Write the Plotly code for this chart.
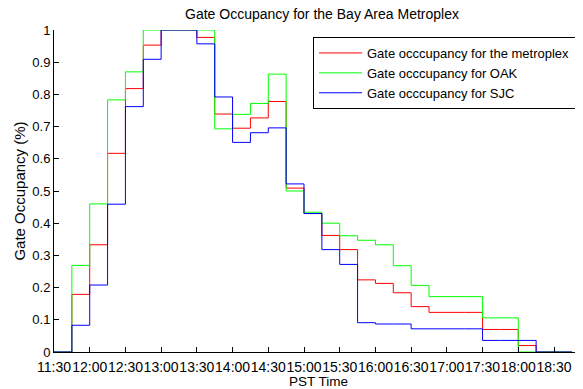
import plotly.graph_objects as go

# 15-minute slots, PST
times = ["11:30", "11:45", "12:00", "12:15", "12:30", "12:45", "13:00", "13:15",
         "13:30", "13:45", "14:00", "14:15", "14:30", "14:45", "15:00", "15:15",
         "15:30", "15:45", "16:00", "16:15", "16:30", "16:45", "17:00", "17:15",
         "17:30", "17:45", "18:00", "18:15", "18:30", "18:45"]

metroplex = [0, 0.179, 0.333, 0.617, 0.818, 0.953, 1.0, 1.0, 0.977, 0.739,
             0.695, 0.727, 0.778, 0.509, 0.430, 0.362, 0.318, 0.224, 0.213, 0.184,
             0.141, 0.123, 0.123, 0.123, 0.070, 0.070, 0.020, 0, 0, 0]
oak = [0, 0.269, 0.460, 0.783, 0.870, 1.0, 1.0, 1.0, 1.0, 0.693,
       0.738, 0.772, 0.863, 0.500, 0.434, 0.400, 0.361, 0.347, 0.333, 0.268,
       0.207, 0.172, 0.172, 0.172, 0.106, 0.106, 0, 0, 0, 0]
sjc = [0, 0.083, 0.208, 0.459, 0.762, 0.909, 1.0, 1.0, 0.957, 0.792,
       0.651, 0.681, 0.696, 0.522, 0.430, 0.318, 0.272, 0.091, 0.087, 0.087,
       0.072, 0.072, 0.072, 0.072, 0.036, 0.036, 0.036, 0, 0, 0]

tick_labels = ["11:30", "12:00", "12:30", "13:00", "13:30", "14:00", "14:30", "15:00",
               "15:30", "16:00", "16:30", "17:00", "17:30", "18:00", "18:30"]


def to_hours(t):
    h, m = t.split(":")
    return int(h) + int(m) / 60


x = [to_hours(t) for t in times]
tick_vals = [to_hours(t) for t in tick_labels]

font = "Liberation Sans, Arial, sans-serif"

# page body has an 8px default margin, so the figure is drawn 8px smaller
W, H = 575, 381

fig = go.Figure()
for name, y, color in [
    ("Gate occcupancy for the metroplex", metroplex, "#ff0000"),
    ("Gate occcupancy for OAK", oak, "#00ff00"),
    ("Gate occcupancy for SJC", sjc, "#0000ff"),
]:
    fig.add_trace(go.Scatter(x=x, y=y, mode="lines", name=name,
                             line=dict(color=color, width=1, shape="hv")))

fig.update_layout(
    width=W, height=H,
    margin=dict(l=46, r=0, t=22, b=37),
    paper_bgcolor="white", plot_bgcolor="white",
    font=dict(family=font, size=14, color="black"),
    title=dict(text="Gate Occupancy for the Bay Area Metroplex", x=314 / W, xanchor="center",
               y=1 - 6 / H, yanchor="middle", yref="container",
               font=dict(size=14)),
    legend=dict(x=(305 - 46) / 529, y=1 - 7 / 322, xanchor="left", yanchor="top",
                bordercolor="black", borderwidth=1, bgcolor="white",
                font=dict(size=13), tracegroupgap=0, itemwidth=43),
    showlegend=True,
)
fig.update_xaxes(
    range=[11.5, 18.906], tickvals=tick_vals, ticktext=tick_labels, tickangle=0,
    showline=True, linecolor="black", linewidth=1, ticks="inside", ticklen=5,
    tickcolor="black", showgrid=False, zeroline=False, automargin=False,
    tickfont=dict(size=14), ticklabelstandoff=2,
    title=dict(text="PST Time", standoff=0, font=dict(size=13.5)),
)
fig.update_yaxes(
    range=[0, 1], dtick=0.1, showline=True, linecolor="black", linewidth=1,
    ticks="inside", ticklen=5, tickcolor="black", showgrid=False, zeroline=False,
    automargin=False, tickfont=dict(size=13),
    title=dict(text="Gate Occupancy (%)", standoff=3, font=dict(size=15)),
)

fig.write_html("out.html")
